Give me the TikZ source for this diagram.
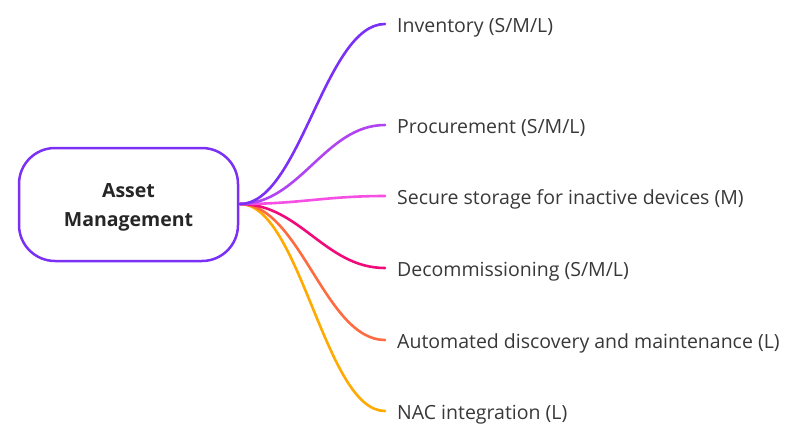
\documentclass[tikz,border=0pt]{standalone}
\usepackage{fontspec}
\setmainfont{Open Sans}
\definecolor{cInv}{HTML}{7A30F5}
\definecolor{cProc}{HTML}{B043F2}
\definecolor{cStor}{HTML}{F54FE3}
\definecolor{cDecom}{HTML}{F00A7A}
\definecolor{cAuto}{HTML}{FF6B40}
\definecolor{cNac}{HTML}{FFAA00}
\tikzset{
  topic/.style={draw=cInv, line width=2.5pt, rounded corners=36pt, fill=white,
    minimum width=219pt, minimum height=113pt, align=center, text=black!85,
    font=\fontsize{19.5}{29}\selectfont\bfseries},
  leaf/.style={anchor=west, inner xsep=12pt, text=black!78,
    text height=20pt, text depth=4pt,
    font=\fontsize{19.5}{22}\selectfont},
  branch/.style={line width=2.6pt, line cap=round}
}
\begin{document}
\begin{tikzpicture}[x=1pt,y=-1pt]
  \useasboundingbox (0,0) rectangle (790,432);
  % subtopics
  \node[leaf] (inv) at (385,24) {Inventory (S/M/L)};
  \node[leaf] (proc) at (385,125) {Procurement (S/M/L)};
  \node[leaf] (stor) at (385,196) {Secure storage for inactive devices (M)};
  \node[leaf] (decom) at (385,268) {Decommissioning (S/M/L)};
  \node[leaf] (auto) at (385,340) {Automated discovery and maintenance (L)};
  \node[leaf] (nac) at (385,411) {NAC integration (L)};
  % branches
  \draw[branch, cNac] (240,204) coordinate (root) .. controls +(60,0) and +(-60,0) .. (nac.west);
  \draw[branch, cAuto] (root) .. controls +(60,0) and +(-60,0) .. (auto.west);
  \draw[branch, cDecom] (root) .. controls +(60,0) and +(-60,0) .. (decom.west);
  \draw[branch, cStor] (root) .. controls +(60,0) and +(-60,0) .. (stor.west);
  \draw[branch, cProc] (root) .. controls +(60,0) and +(-60,0) .. (proc.west);
  \draw[branch, cInv] (root) .. controls +(60,0) and +(-60,0) .. (inv.west);
  % main topic
  \node[topic] (am) at (128.5,204.5) {\rule{0pt}{20pt}Asset\\Management};
\end{tikzpicture}
\end{document}
